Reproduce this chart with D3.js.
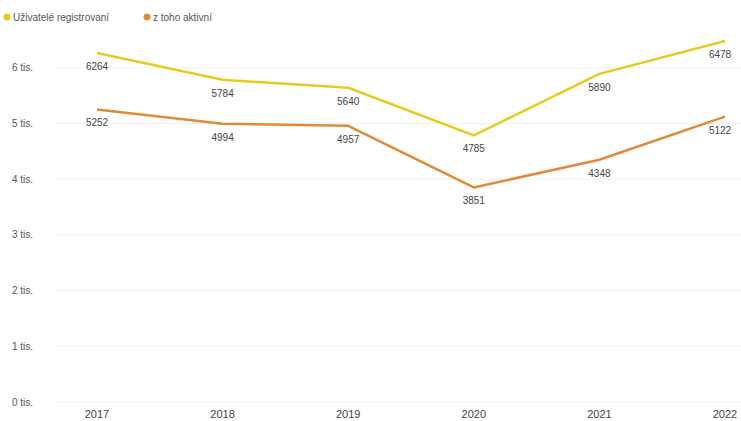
<!DOCTYPE html>
<html><head><meta charset="utf-8">
<script src="https://cdn.jsdelivr.net/npm/d3@7"></script>
<style>body{margin:0;background:#fff;font-family:"Liberation Sans",Arial,sans-serif;}</style>
</head><body><svg id="c" width="741" height="421"></svg>
<script>
const years = ["2017","2018","2019","2020","2021","2022"];
const registered = [6264, 5784, 5640, 4785, 5890, 6478];
const active = [5252, 4994, 4957, 3851, 4348, 5122];
const seriesNames = ["Uživatelé registrovaní", "z toho aktivní"];
const yTicks = [0, 1000, 2000, 3000, 4000, 5000, 6000];
const colors = ["#E5CB22", "#E08A3A"];

const svg = d3.select("#c");
const x = d3.scalePoint().domain(years).range([97, 725]);
const y = d3.scaleLinear().domain([0, 7000]).range([402, 12]);

// gridlines + y labels
const g = svg.append("g");
g.selectAll("line.grid").data(yTicks).enter().append("line")
  .attr("x1", 55).attr("x2", 741)
  .attr("y1", d => y(d)).attr("y2", d => y(d))
  .attr("stroke", "#f1f1f1").attr("stroke-width", 1);
g.selectAll("text.yl").data(yTicks).enter().append("text")
  .attr("x", 12).attr("y", d => y(d) + 3.5)
  .attr("font-size", 10).attr("fill", "#555")
  .text(d => (d/1000) + " tis.");

// x labels
svg.selectAll("text.xl").data(years).enter().append("text")
  .attr("x", d => x(d)).attr("y", 418).attr("text-anchor", "middle")
  .attr("font-size", 11).attr("fill", "#444").text(d => d);

const line = d3.line().x((d, i) => x(years[i])).y(d => y(d));
[registered, active].forEach((s, k) => {
  svg.append("path").datum(s).attr("d", line).attr("fill", "none")
    .attr("stroke", colors[k]).attr("stroke-width", 2.5).attr("stroke-linejoin", "round");
  svg.selectAll("text.v" + k).data(s).enter().append("text")
    .attr("x", (d, i) => i === years.length - 1 ? x(years[i]) - 5 : x(years[i]))
    .attr("y", d => y(d) + 17)
    .attr("text-anchor", "middle").attr("font-size", 10).attr("fill", "#444")
    .text(d => d);
});

// legend
const leg = [{x: 7, t: seriesNames[0], c: colors[0]}, {x: 147, t: seriesNames[1], c: colors[1]}];
leg.forEach(l => {
  svg.append("circle").attr("cx", l.x).attr("cy", 17).attr("r", 3.5).attr("fill", l.c);
  svg.append("text").attr("x", l.x + 6).attr("y", 20.5).attr("font-size", 10).attr("fill", "#555").text(l.t);
});
</script></body></html>
